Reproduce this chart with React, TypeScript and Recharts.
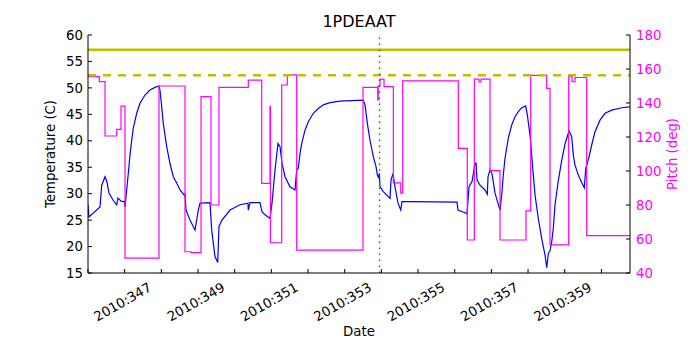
import React from 'react'
import { ComposedChart, Line, XAxis, YAxis, ReferenceLine } from 'recharts'

// day-of-year 2010
const tempDays = [
  346.0, 346.027, 346.327, 346.374, 346.464, 346.518, 346.573, 346.682, 346.783, 346.818, 346.9, 346.99,
  347.009, 347.055, 347.099, 347.145, 347.192, 347.235, 347.328, 347.418, 347.554, 347.691, 347.827, 347.936,
  347.963, 348.01, 348.053, 348.146, 348.236, 348.326, 348.419, 348.509, 348.626, 348.645, 348.673, 348.782,
  348.918, 349.008, 349.054, 349.327, 349.373, 349.463, 349.537, 349.572, 349.654, 349.872, 350.145, 350.363,
  350.371, 350.418, 350.69, 350.745, 350.827, 350.963, 351.018, 351.1, 351.181, 351.236, 351.291, 351.372,
  351.509, 351.645, 351.691, 351.735, 351.781, 351.828, 351.918, 352.008, 352.144, 352.28, 352.417, 352.6,
  352.872, 353.508, 353.554, 353.617, 353.69, 353.78, 353.854, 353.89, 353.917, 353.944, 353.963, 354.053,
  354.236, 354.263, 354.317, 354.372, 354.454, 354.528, 354.563, 354.781, 356.063, 356.09, 356.281, 356.336,
  356.39, 356.472, 356.554, 356.581, 356.608, 356.69, 356.826, 356.889, 356.908, 356.963, 357.017, 357.099,
  357.235, 357.282, 357.325, 357.372, 357.462, 357.555, 357.645, 357.735, 357.827, 357.936, 357.98, 358.053,
  358.1, 358.144, 358.19, 358.28, 358.372, 358.463, 358.509, 358.553, 358.599, 358.645, 358.689, 358.735,
  358.826, 358.918, 359.008, 359.117, 359.19, 359.234, 359.281, 359.371, 359.463, 359.534, 359.573, 359.643,
  359.736, 359.826, 359.962, 360.099, 360.282, 360.554, 360.78,
]
const tempValues = [
  27.9, 25.6, 27.5, 31.6, 33.2, 32.2, 30.1, 28.8, 27.9, 29.2, 28.6, 28.5,
  27.5, 30.7, 33.85, 37.3, 40.1, 42.4, 45.2, 47.1, 48.65, 49.6, 50.1, 50.35,
  49.6, 46.4, 43.3, 38.9, 35.7, 33.2, 32.0, 30.7, 29.7, 29.9, 26.9, 25,
  23.1, 26.9, 28.2, 28.3, 23.1, 18.1, 17, 23.8, 25, 26.9, 27.9, 28.2,
  26.9, 28.3, 28.3, 26.6, 26, 25.3, 28.2, 34.5, 39.5, 38.9, 35.7, 33.2,
  31.3, 30.7, 34.5, 34.8, 37.6, 39.5, 42.0, 43.6, 45.2, 46.1, 46.8, 47.2,
  47.5, 47.7, 46.8, 43.3, 40.1, 37.0, 35.1, 33.5, 33.1, 33.85, 31.3, 30.4,
  29.1, 32.6, 33.8, 31.3, 28.2, 26.9, 28.5, 28.5, 28.4, 26.9, 26.4, 26.2,
  31.3, 32.3, 35.7, 35.8, 32.6, 31.6, 30.7, 29.9, 33.2, 34.5, 33.8, 30.1,
  26.9, 29.75, 33.5, 36.7, 40.5, 43.0, 44.55, 45.5, 46.25, 46.6, 44.9, 41.1,
  37.3, 33.5, 29.75, 25.3, 21.5, 18.4, 16.0, 18.7, 19.2, 20.9, 23.45, 27.9,
  32.5, 36.3, 39.4, 41.85, 40.8, 37.3, 35.4, 33.5, 32.1, 31.1, 34.8, 36.4,
  39.2, 41.7, 43.9, 45.2, 45.8, 46.25, 46.4,
]

const pitchDays = [
  346.0, 346.308, 346.464, 346.783, 346.9, 347.009, 347.936, 348.645, 348.809, 349.082, 349.354, 349.572,
  350.371, 350.736, 350.963, 350.975, 351.282, 351.435, 351.691, 353.499, 353.9, 353.916, 353.963, 354.072,
  354.326, 354.528, 354.582, 356.098, 356.343, 356.535, 356.663, 356.717, 356.963, 357.235, 357.944, 358.072,
  358.509, 358.599, 359.108, 359.199, 359.281, 359.599, 360.78,
]
const pitchValues = [
  155.5, 152.6, 120.6, 124.5, 138.2, 48.8, 150, 52.5, 52, 143.7, 80, 149.2,
  153.5, 92.7, 138, 57.8, 150.6, 156.5, 53.5, 149.2, 141.8, 150, 154, 149.6,
  93, 87, 153, 113.3, 59.4, 154, 152.4, 154, 100.2, 59.4, 76.6, 156.3,
  148.6, 56.5, 155.5, 152.6, 155, 62, 62,
]

const dayTicks = [346, 347, 348, 349, 350, 351, 352, 353, 354, 355, 356, 357, 358, 359, 360]
const tempTicks = [15, 20, 25, 30, 35, 40, 45, 50, 55, 60]
const pitchTicks = [40, 60, 80, 100, 120, 140, 160, 180]

const tempLimit = 57.2
const tempPlanLimit = 52.4
const nowDay = 353.95

const tempData = tempDays.map((day, i) => ({ day, temp: tempValues[i] }))
const pitchData = pitchDays.map((day, i) => ({ day, pitch: pitchValues[i] }))

const FONT = 'DejaVu Sans, sans-serif'

const DateTick = (props: any) => {
  const { x, y, payload } = props
  const d = payload.value
  if (d % 2 === 0) return null
  return (
    <text
      transform={`translate(${x - 2},${y + 33}) rotate(-30)`}
      textAnchor="middle"
      dominantBaseline="central"
      fontSize={13.3}
      fontFamily={FONT}
      fill="#000"
    >
      {`2010:${d}`}
    </text>
  )
}

export default function App() {
  return (
    <div style={{ position: 'absolute', left: 0, top: 0, width: 700, height: 350, background: '#fff' }}>
      <div
        style={{
          position: 'absolute', left: 88, width: 542, top: 12, textAlign: 'center',
          fontFamily: FONT, fontSize: 16, color: '#000',
        }}
      >
        1PDEAAT
      </div>
      <ComposedChart width={700} height={350} margin={{ top: 35, right: 0, bottom: 0, left: 0 }}>
        <XAxis
          xAxisId="bottom"
          dataKey="day"
          type="number"
          domain={[346, 360.78]}
          allowDataOverflow
          ticks={dayTicks}
          interval={0}
          height={77}
          tickSize={-4}
          tickMargin={0}
          tick={<DateTick />}
          stroke="#000"
          axisLine={{ stroke: '#000' }}
          label={{ value: 'Date', position: 'insideTop', dy: 49, fontSize: 13.3, fontFamily: FONT, fill: '#000' }}
        />
        <XAxis
          xAxisId="top"
          orientation="top"
          dataKey="day"
          type="number"
          domain={[346, 360.78]}
          allowDataOverflow
          ticks={dayTicks}
          interval={0}
          height={0}
          tickSize={-4}
          tick={false}
          stroke="#000"
        />
        <YAxis
          yAxisId="temp"
          domain={[15, 60]}
          ticks={tempTicks}
          interval={0}
          width={88}
          tickSize={-4}
          tickMargin={9}
          stroke="#000"
          tick={{ fontSize: 13.3, fontFamily: FONT, fill: '#000' }}
          label={{ value: 'Temperature (C)', angle: -90, position: 'center', dx: 6, fontSize: 13.3, fontFamily: FONT, fill: '#000' }}
        />
        <YAxis
          yAxisId="pitch"
          orientation="right"
          domain={[40, 180]}
          ticks={pitchTicks}
          interval={0}
          width={70}
          tickSize={-4}
          tickMargin={10}
          stroke="#000"
          tick={{ fontSize: 13.3, fontFamily: FONT, fill: '#ff00ff' }}
          label={{ value: 'Pitch (deg)', angle: -90, position: 'center', dx: 7, fontSize: 13.3, fontFamily: FONT, fill: '#ff00ff' }}
        />
        <Line
          xAxisId="bottom"
          yAxisId="temp"
          data={tempData}
          dataKey="temp"
          type="linear"
          stroke="#0000ff"
          strokeWidth={1.2}
          dot={false}
          isAnimationActive={false}
        />
        <Line
          xAxisId="bottom"
          yAxisId="pitch"
          data={pitchData}
          dataKey="pitch"
          type="stepAfter"
          stroke="#ff00ff"
          strokeWidth={1.2}
          dot={false}
          isAnimationActive={false}
        />
        <ReferenceLine xAxisId="bottom" yAxisId="temp" y={tempLimit} stroke="#bfbf00" strokeWidth={2.5} />
        <ReferenceLine xAxisId="bottom" yAxisId="temp" y={tempPlanLimit} stroke="#bfbf00" strokeWidth={2.5} strokeDasharray="8 7" />
        <ReferenceLine xAxisId="bottom" yAxisId="temp" x={nowDay} stroke="#008000" strokeWidth={1.4} strokeDasharray="1.4 4.6" />
      </ComposedChart>
    </div>
  )
}
